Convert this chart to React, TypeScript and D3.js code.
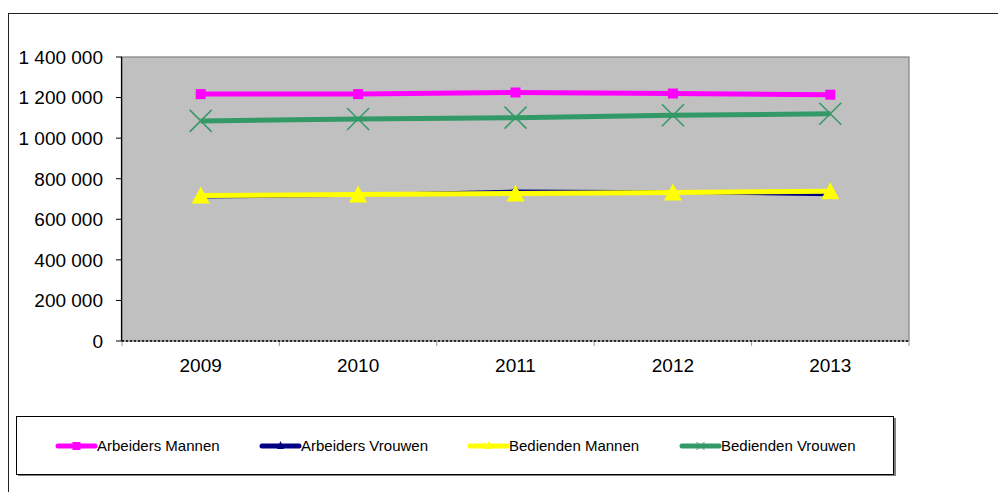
import React from "react";
import * as d3 from "d3";

const years = ["2009", "2010", "2011", "2012", "2013"];
const arbeidersMannen = [1217000, 1217000, 1225000, 1220000, 1214000];
const arbeidersVrouwen = [711000, 720000, 738000, 735000, 722000];
const bediendenMannen = [717000, 722000, 727000, 732000, 738000];
const bediendenVrouwen = [1085000, 1094000, 1101000, 1113000, 1120000];
const yTicks = [0, 200000, 400000, 600000, 800000, 1000000, 1200000, 1400000];

const seriesNames = ["Arbeiders Mannen", "Arbeiders Vrouwen", "Bedienden Mannen", "Bedienden Vrouwen"];
const seriesColors = ["#FF00FF", "#000080", "#FFFF00", "#339966"];
const seriesMarkers = ["square", "diamond", "triangle", "x"];

const W = 998, H = 492;
const plot = { left: 122, right: 909, top: 57, bottom: 341 };
const legendItemX = [58, 262, 470, 682];

const fmt = (v: number) => d3.format(",")(v).replace(/,/g, " ");

function Marker({ type, x, y, color }: { type: string; x: number; y: number; color: string }) {
  if (type === "square") return <rect x={x - 5} y={y - 5} width={10} height={10} fill={color} />;
  if (type === "diamond") return <path d={`M${x},${y - 5}L${x + 5},${y}L${x},${y + 5}L${x - 5},${y}Z`} fill={color} />;
  if (type === "triangle") return <path d={`M${x},${y - 9}L${x + 9},${y + 8}L${x - 9},${y + 8}Z`} fill={color} />;
  return (
    <g stroke={color} strokeWidth={1.5}>
      <line x1={x - 11} y1={y - 11} x2={x + 11} y2={y + 11} />
      <line x1={x - 11} y1={y + 11} x2={x + 11} y2={y - 11} />
    </g>
  );
}

export default function App() {
  const x = d3.scaleBand().domain(years).range([plot.left, plot.right]);
  const y = d3.scaleLinear().domain([0, 1400000]).range([plot.bottom, plot.top]);
  const cx = (yr: string) => (x(yr) as number) + x.bandwidth() / 2;
  const data = [arbeidersMannen, arbeidersVrouwen, bediendenMannen, bediendenVrouwen];
  const widths = [5, 3.5, 5, 5];
  const order = [1, 2, 3, 0];
  const line = d3.line<number>().x((_, i) => cx(years[i])).y((v) => y(v));
  const font = "Liberation Sans, Arial, sans-serif";

  return (
    <svg width={W} height={H} style={{ position: "absolute", left: 0, top: 0 }} fontFamily={font}>
      <rect x={0} y={0} width={W} height={H} fill="#fff" />
      <rect x={8.5} y={13.5} width={1000} height={500} fill="#fff" stroke="#222" strokeWidth={1} />
      <rect x={plot.left} y={plot.top} width={plot.right - plot.left} height={plot.bottom - plot.top} fill="#C0C0C0" stroke="#808080" strokeWidth={1.2} />
      <line x1={plot.left - 0.5} x2={plot.left - 0.5} y1={plot.top} y2={plot.bottom} stroke="#000" strokeWidth={1.2} />
      {yTicks.map((t) => (
        <g key={t}>
          <line x1={plot.left - 6} x2={plot.left} y1={y(t)} y2={y(t)} stroke="#000" />
          <text x={103} y={y(t)} dy="0.36em" textAnchor="end" fontSize={19} fill="#000">{fmt(t)}</text>
        </g>
      ))}
      {years.map((yr) => (
        <g key={yr}>
          <line x1={x(yr) as number} x2={x(yr) as number} y1={plot.bottom} y2={plot.bottom + 5} stroke="#999" />
          <text x={cx(yr)} y={365} dy="0.36em" textAnchor="middle" fontSize={19} fill="#000">{yr}</text>
        </g>
      ))}
      <line x1={plot.right} x2={plot.right} y1={plot.bottom} y2={plot.bottom + 5} stroke="#999" />
      <line x1={plot.left} x2={plot.right} y1={plot.bottom} y2={plot.bottom} stroke="#000" strokeWidth={1.5} strokeDasharray="2,2" />
      {order.map((s) => (
        <g key={s}>
          <path d={line(data[s]) as string} fill="none" stroke={seriesColors[s]} strokeWidth={widths[s]} />
          {data[s].map((v, i) => (
            <Marker key={i} type={seriesMarkers[s]} x={cx(years[i])} y={y(v)} color={seriesColors[s]} />
          ))}
        </g>
      ))}
      <rect x={18} y={418} width={878} height={58} fill="#808080" />
      <rect x={16.5} y={416.5} width={877} height={58} fill="#fff" stroke="#000" strokeWidth={1} />
      {seriesNames.map((n, i) => (
        <g key={n}>
          <line x1={legendItemX[i]} x2={legendItemX[i] + 37} y1={446} y2={446} stroke={seriesColors[i]} strokeWidth={5} strokeLinecap="round" />
          {seriesMarkers[i] === "square" ? (
            <rect x={legendItemX[i] + 18.5 - 4} y={442} width={8} height={8} fill={seriesColors[i]} />
          ) : seriesMarkers[i] === "x" ? (
            <g stroke={seriesColors[i]} strokeWidth={1}>
              <line x1={legendItemX[i] + 14.5} y1={442} x2={legendItemX[i] + 22.5} y2={450} />
              <line x1={legendItemX[i] + 14.5} y1={450} x2={legendItemX[i] + 22.5} y2={442} />
            </g>
          ) : (
            <path d={`M${legendItemX[i] + 18.5},${441}L${legendItemX[i] + 22},${449}L${legendItemX[i] + 15},${449}Z`} fill={seriesColors[i]} />
          )}
          <text x={legendItemX[i] + 39} y={446} dy="0.36em" fontSize={15} fill="#000">{n}</text>
        </g>
      ))}
    </svg>
  );
}
